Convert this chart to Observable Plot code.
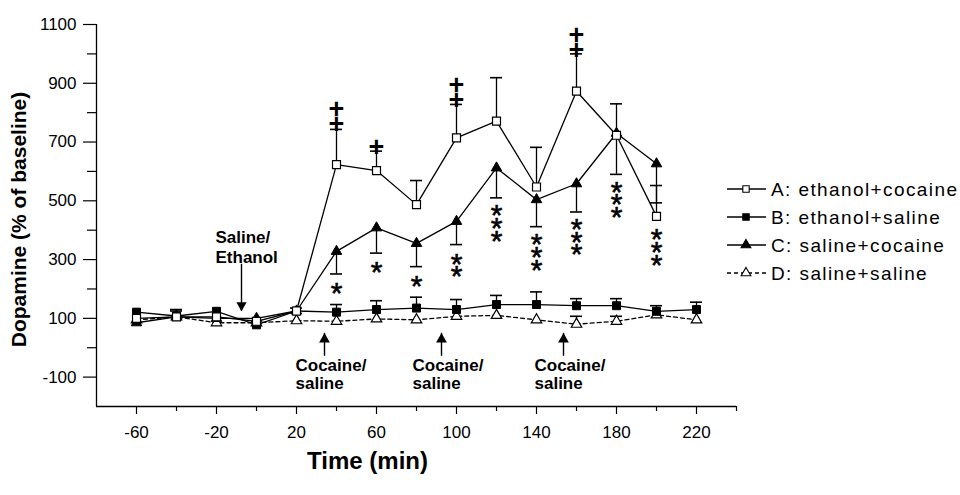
<!DOCTYPE html>
<html>
<head>
<meta charset="utf-8">
<script src="https://cdn.jsdelivr.net/npm/d3@7"></script>
<script src="https://cdn.jsdelivr.net/npm/@observablehq/plot@0.6"></script>
<style>
  body { margin: 0; background: #fff; }
  #wrap { position: relative; width: 960px; height: 495px; }
  #legend { position: absolute; left: 0; top: 0; pointer-events: none; }
</style>
</head>
<body>
<div id="wrap"></div>
<script>
// ---- data ----
const time = [-60, -40, -20, 0, 20, 40, 60, 80, 100, 120, 140, 160, 180, 200, 220];
const seriesA = [100, 105, 105, 90, 125, 623, 603, 487, 714, 771, 547, 873, 723, 447, null];
const errA    = [0, 20, 0, 0, 0, 120, 66, 82, 114, 148, 135, 127, 107, 105, null];
const seriesB = [121, 108, 124, 78, 125, 121, 130, 135, 130, 147, 147, 143, 143, 124, 130];
const errB    = [0, 22, 0, 0, 10, 26, 30, 37, 34, 31, 43, 24, 24, 19, 25];
const seriesC = [85, 105, 100, 100, 125, 328, 408, 355, 430, 612, 504, 558, 730, 626, null];
const errC    = [0, 0, 0, 0, 0, 77, 86, 79, 79, 102, 92, 96, 140, 133, null];
const seriesD = [95, 105, 85, 85, 92, 90, 98, 95, 107, 110, 95, 80, 90, 112, 95];
const errD    = [0, 0, 0, 0, 0, 0, 0, 0, 0, 0, 0, 27, 17, 0, 0];

const seriesNames = ["A: ethanol+cocaine", "B: ethanol+saline", "C: saline+cocaine", "D: saline+saline"];

// significance marks (stars and plus signs)
const starTime  = [40, 60, 80, 100, 100, 120, 120, 120, 140, 140, 140, 160, 160, 160, 180, 180, 180, 200, 200, 200];
const starValue = [212, 284, 236, 311, 270, 478, 434, 390, 379, 335, 291, 430, 386, 345, 557, 516, 471, 396, 352, 308];
const plusTime  = [40, 40, 60, 100, 100, 160, 160];
const plusValue = [815, 764, 686, 897, 846, 1067, 1016];

// injection annotations
const noteTime  = [-20.5, 19.5, 78, 139];
const noteValue = [345, -91, -91, -91];
const noteText  = ["Saline/\nEthanol", "Cocaine/\nsaline", "Cocaine/\nsaline", "Cocaine/\nsaline"];
const arrowTime = [-7.5, 34, 92.5, 153.5];
const arrowTail = [284, -29, -29, -29];
const arrowTip  = [124, 49, 49, 49];

// axes
const xDomain = [-80, 240];
const yDomain = [-200, 1100];
const xMajor = [-60, -20, 20, 60, 100, 140, 180, 220];
const xMinor = [-40, 0, 40, 80, 120, 160, 200, 240];
const yMajor = [-100, 100, 300, 500, 700, 900, 1100];
const yMinor = [0, 200, 400, 600, 800, 1000];

// ---- build tables ----
function build(key, vals, errs, dir) {
  return time.map((t, i) => vals[i] == null ? null :
    ({series: key, t, v: vals[i], err: errs[i], cap: vals[i] + dir * errs[i]})).filter(d => d);
}
const A = build("A", seriesA, errA, 1);
const B = build("B", seriesB, errB, 1);
const C = build("C", seriesC, errC, -1);
const D = build("D", seriesD, errD, 1);
const errRows = [...A, ...B, ...C, ...D].filter(d => d.err > 0);
const stars = starTime.map((t, i) => ({t, v: starValue[i]}));
const pluses = plusTime.map((t, i) => ({t, v: plusValue[i]}));
const notes = noteTime.map((t, i) => ({t, v: noteValue[i], label: noteText[i]}));
const arrows = arrowTime.map((t, i) => ({t, tail: arrowTail[i], tip: arrowTip[i]}));
const downArrows = arrows.filter(d => d.tip < d.tail);
const upArrows = arrows.filter(d => d.tip > d.tail);

const triangleDown = {
  draw(ctx, size) {
    const y = -Math.sqrt(size / (Math.sqrt(3) * 3));
    ctx.moveTo(0, -y * 2);
    ctx.lineTo(-Math.sqrt(3) * y, y);
    ctx.lineTo(Math.sqrt(3) * y, y);
    ctx.closePath();
  }
};

const FONT = "'Liberation Sans', Arial, Helvetica, sans-serif";
const LW = 1.3;
const plain = d => String(d);

const chart = Plot.plot({
  width: 960,
  height: 495,
  marginLeft: 96,
  marginRight: 224,
  marginTop: 24,
  marginBottom: 89,
  style: {fontFamily: FONT, fontSize: "17px", color: "black", background: "white", overflow: "visible"},
  x: {domain: xDomain},
  y: {domain: yDomain},
  marks: [
    // axis lines
    Plot.ruleX([xDomain[0]], {stroke: "black", strokeWidth: LW}),
    Plot.ruleY([yDomain[0]], {stroke: "black", strokeWidth: LW}),
    Plot.axisY({ticks: yMajor, tickFormat: plain, tickSize: 13, tickPadding: 7, fontSize: 17, label: null, strokeWidth: 1.2}),
    Plot.axisY({ticks: yMinor, tickSize: 9, tickFormat: () => "", label: null, strokeWidth: 1.2}),
    Plot.axisX({ticks: xMajor, tickFormat: plain, tickSize: 8, tickPadding: 11, fontSize: 17, label: null, strokeWidth: 1.2}),
    Plot.axisX({ticks: xMinor, tickSize: 5, tickFormat: () => "", label: null, strokeWidth: 1.2}),
    // titles
    Plot.text(["Dopamine (% of baseline)"], {frameAnchor: "left", textAnchor: "middle", rotate: -90, dx: -77, dy: 4, fontSize: 21, fontWeight: "bold"}),
    Plot.text(["Time (min)"], {frameAnchor: "bottom", textAnchor: "middle", dx: -49, dy: 62, fontSize: 24, fontWeight: "bold"}),
    // series lines
    Plot.line(D, {x: "t", y: "v", stroke: "black", strokeWidth: LW, strokeDasharray: "4,3"}),
    Plot.line(B, {x: "t", y: "v", stroke: "black", strokeWidth: LW}),
    Plot.line(C, {x: "t", y: "v", stroke: "black", strokeWidth: LW}),
    Plot.line(A, {x: "t", y: "v", stroke: "black", strokeWidth: LW}),
    // error bars
    Plot.ruleX(errRows, {x: "t", y1: "v", y2: "cap", stroke: "black", strokeWidth: LW}),
    Plot.ruleY(errRows, {y: "cap", x1: d => d.t - 3, x2: d => d.t + 3, stroke: "black", strokeWidth: 1.6}),
    // markers
    Plot.dot(D, {x: "t", y: "v", symbol: "triangle", r: 3.9, fill: "white", stroke: "black", strokeWidth: 1.2}),
    Plot.dot(B, {x: "t", y: "v", symbol: "square", r: 4.5, fill: "black", stroke: "black", strokeWidth: 1}),
    Plot.dot(C, {x: "t", y: "v", symbol: "triangle", r: 3.9, fill: "black", stroke: "black", strokeWidth: 1}),
    Plot.dot(A, {x: "t", y: "v", symbol: "square", r: 4.5, fill: "white", stroke: "black", strokeWidth: 1.2}),
    // significance
    Plot.text(stars, {x: "t", y: "v", text: () => "*", fontSize: 30, fill: "black", stroke: "black", strokeWidth: 0.6, dy: 8}),
    Plot.text(pluses, {x: "t", y: "v", text: () => "+", fontSize: 27, fontWeight: "bold", fill: "black", dy: 1}),
    // annotations
    Plot.text(notes.slice(0, 1), {x: "t", y: "v", text: "label", textAnchor: "start", fontSize: 17, fontWeight: "bold", lineHeight: 1.18}),
    Plot.text(notes.slice(1), {x: "t", y: "v", text: "label", textAnchor: "start", fontSize: 17, fontWeight: "bold", lineHeight: 1.06}),
    Plot.ruleX(arrows, {x: "t", y1: "tail", y2: "tip", stroke: "black", strokeWidth: 1.4}),
    Plot.dot(downArrows, {x: "t", y: "tip", symbol: triangleDown, r: 3.8, fill: "black", stroke: "none", dy: -6}),
    Plot.dot(upArrows, {x: "t", y: "tip", symbol: "triangle", r: 4, fill: "black", stroke: "none", dy: 6})
  ]
});

const wrap = document.getElementById("wrap");
wrap.appendChild(chart);

// ---- legend ----
const leg = d3.select(wrap).append("svg")
  .attr("id", "legend").attr("width", 960).attr("height", 495)
  .style("font-family", FONT);
const legY = [189, 217, 245, 273];
const legSym = [
  {type: d3.symbolSquare, fill: "white", dash: null},
  {type: d3.symbolSquare, fill: "black", dash: null},
  {type: d3.symbolTriangle, fill: "black", dash: null},
  {type: d3.symbolTriangle, fill: "white", dash: "4,3"}
];
seriesNames.forEach((name, i) => {
  const g = leg.append("g").attr("transform", `translate(0,${legY[i]})`);
  g.append("line").attr("x1", 727).attr("x2", 766).attr("y1", 0).attr("y2", 0)
    .attr("stroke", "black").attr("stroke-width", LW)
    .attr("stroke-dasharray", legSym[i].dash);
  const s = legSym[i];
  const size = Math.PI * 3.6 ** 2;
  g.append("path").attr("transform", "translate(746,0)")
    .attr("d", d3.symbol(s.type, size)())
    .attr("fill", s.fill).attr("stroke", "black").attr("stroke-width", 1.1);
  g.append("text").attr("x", 771).attr("y", 0).attr("dy", "0.35em")
    .attr("font-size", 19).attr("letter-spacing", "1.4px").text(name);
});
</script>
</body>
</html>
